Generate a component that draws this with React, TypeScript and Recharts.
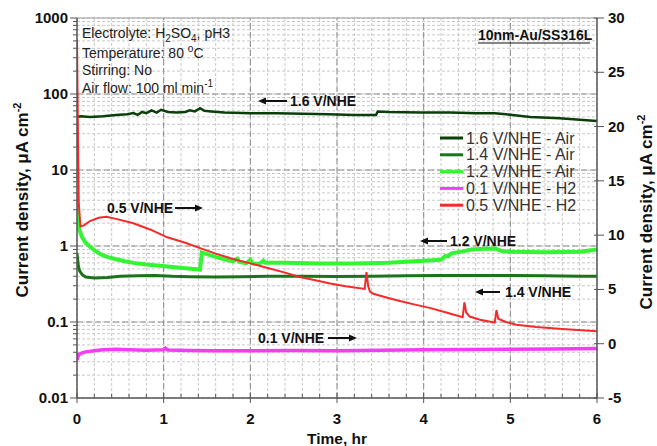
import React from "react";
import { LineChart, Line, XAxis, YAxis, CartesianGrid, ReferenceLine } from "recharts";

const FONT = '"Liberation Sans", Arial, sans-serif';
const AXIS = "#555";
const INK = "#111";

// axis ticks
const xTicks = [0, 0.2, 0.4, 0.6, 0.8, 1, 1.2, 1.4, 1.6, 1.8, 2, 2.2, 2.4, 2.6, 2.8, 3, 3.2, 3.4, 3.6, 3.8, 4, 4.2, 4.4, 4.6, 4.8, 5, 5.2, 5.4, 5.6, 5.8, 6];
const xMajor = [0, 1, 2, 3, 4, 5, 6];
const leftTicks = [
  0.01, 0.02, 0.03, 0.04, 0.05, 0.06, 0.07, 0.08, 0.09,
  0.1, 0.2, 0.3, 0.4, 0.5, 0.6, 0.7, 0.8, 0.9,
  1, 2, 3, 4, 5, 6, 7, 8, 9,
  10, 20, 30, 40, 50, 60, 70, 80, 90,
  100, 200, 300, 400, 500, 600, 700, 800, 900,
  1000,
];
const leftMajor = [0.01, 0.1, 1, 10, 100, 1000];
const rightTicks = [-5, 0, 5, 10, 15, 20, 25, 30];

// 1.6 V/NHE - Air (left, log)
const t16 = [0, 0.05, 0.15, 0.3, 0.45, 0.58, 0.65, 0.7, 0.75, 0.8, 0.86, 0.92, 0.97, 1.05, 1.15, 1.25, 1.3, 1.36, 1.42, 1.47, 1.55, 1.7, 2.0, 2.3, 2.6, 2.9, 3.2, 3.45, 3.47, 3.6, 3.96, 4.3, 4.6, 4.82, 4.95, 5.23, 5.57, 5.8, 6.0];
const v16 = [50, 51, 50, 51, 53, 54, 56, 53, 58, 56, 61, 57, 62, 58, 57, 58, 61, 59, 65, 60, 59, 57, 56, 56, 55, 54, 53, 53, 59, 58, 57, 57, 56, 56, 54, 50, 48, 46, 44];

// 1.4 V/NHE - Air (left, log)
const t14 = [0, 0.015, 0.03, 0.06, 0.1, 0.2, 0.35, 0.5, 0.7, 0.9, 1.1, 1.3, 1.6, 1.9, 2.2, 2.6, 3.0, 3.4, 3.8, 4.2, 4.6, 5.0, 5.4, 5.8, 6.0];
const v14 = [0.8, 0.55, 0.47, 0.42, 0.39, 0.38, 0.385, 0.4, 0.405, 0.41, 0.4, 0.395, 0.39, 0.395, 0.4, 0.4, 0.398, 0.4, 0.405, 0.41, 0.41, 0.41, 0.405, 0.4, 0.4];

// 1.2 V/NHE - Air (left, log)
const t12 = [0, 0.01, 0.03, 0.06, 0.1, 0.15, 0.2, 0.27, 0.35, 0.45, 0.55, 0.65, 0.8, 0.95, 1.1, 1.25, 1.42, 1.44, 1.5, 1.6, 1.7, 1.8, 1.85, 1.87, 1.95, 2.0, 2.02, 2.1, 2.15, 2.17, 2.4, 2.8, 3.2, 3.6, 3.9, 4.2, 4.25, 4.28, 4.32, 4.45, 4.55, 4.7, 4.82, 4.9, 5.0, 5.4, 5.8, 6.0];
const v12 = [5, 2.4, 1.6, 1.3, 1.1, 0.98, 0.88, 0.78, 0.72, 0.67, 0.63, 0.6, 0.57, 0.55, 0.53, 0.51, 0.49, 0.82, 0.78, 0.72, 0.67, 0.63, 0.68, 0.62, 0.59, 0.66, 0.59, 0.58, 0.64, 0.6, 0.6, 0.59, 0.59, 0.6, 0.63, 0.66, 0.74, 0.73, 0.8, 0.85, 0.9, 0.92, 0.93, 0.86, 0.84, 0.83, 0.84, 0.9];

// 0.1 V/NHE - H2 (right, linear)
const t01 = [0, 0.02, 0.06, 0.1, 0.2, 0.3, 0.45, 0.6, 0.8, 1.0, 1.02, 1.05, 1.3, 1.6, 2.0, 2.5, 3.0, 3.5, 4.0, 4.5, 5.0, 5.5, 6.0];
const v01 = [-1.5, -1.0, -0.85, -0.75, -0.64, -0.56, -0.5, -0.55, -0.6, -0.55, -0.42, -0.58, -0.62, -0.64, -0.64, -0.62, -0.64, -0.6, -0.56, -0.53, -0.5, -0.48, -0.44];

// 0.5 V/NHE - H2 (right, linear)
const t05 = [0, 0.01, 0.02, 0.04, 0.08, 0.15, 0.25, 0.34, 0.45, 0.65, 0.85, 1.04, 1.25, 1.42, 1.6, 1.8, 2.0, 2.19, 2.4, 2.57, 2.75, 2.92, 3.1, 3.32, 3.34, 3.36, 3.38, 3.42, 3.55, 3.69, 3.9, 4.07, 4.25, 4.45, 4.47, 4.49, 4.53, 4.65, 4.82, 4.84, 4.86, 4.95, 5.07, 5.3, 5.6, 6.0];
const v05 = [28, 20, 13, 10.8, 10.9, 11.3, 11.6, 11.7, 11.5, 11.1, 10.5, 9.8, 9.3, 8.8, 8.3, 7.8, 7.4, 7.0, 6.55, 6.15, 5.85, 5.55, 5.3, 5.05, 6.6, 5.3, 4.8, 4.6, 4.3, 4.0, 3.6, 3.3, 2.9, 2.45, 3.8, 2.9, 2.5, 2.2, 1.95, 3.1, 2.3, 2.0, 1.75, 1.55, 1.35, 1.15];

const series = [
  { name: "1.6 V/NHE - Air", color: "#0a3f0a", width: 2.5, axis: "left", t: t16, v: v16 },
  { name: "1.4 V/NHE - Air", color: "#1b741b", width: 3, axis: "left", t: t14, v: v14 },
  { name: "1.2 V/NHE - Air", color: "#33f533", width: 4, axis: "left", t: t12, v: v12 },
  { name: "0.1 V/NHE - H2", color: "#f53cf5", width: 3.5, axis: "right", t: t01, v: v01 },
  { name: "0.5 V/NHE - H2", color: "#f52a2a", width: 2, axis: "right", t: t05, v: v05 },
];

const toPoints = (t: number[], v: number[]) => t.map((x, i) => ({ t: x, v: v[i] }));

const labelStyle = { fontFamily: FONT, fontSize: 15, fontWeight: 700, fill: INK };

const LeftTick = (props: any) => {
  const { x, y, payload } = props;
  const major = leftMajor.includes(payload.value);
  return (
    <g>
      <line x1={x} x2={x - (major ? 7 : 4)} y1={y} y2={y} stroke={AXIS} strokeWidth={1} />
      {major && (
        <text x={x - 9} y={y} dy={5} textAnchor="end" style={labelStyle}>
          {String(payload.value)}
        </text>
      )}
    </g>
  );
};

const RightTick = (props: any) => {
  const { x, y, payload } = props;
  return (
    <g>
      <line x1={x - 3} x2={x + 7} y1={y} y2={y} stroke={AXIS} strokeWidth={1} />
      <text x={x + 11} y={y} dy={5} textAnchor="start" style={labelStyle}>
        {String(payload.value)}
      </text>
    </g>
  );
};

const BottomTick = (props: any) => {
  const { x, y, payload } = props;
  const major = xMajor.includes(payload.value);
  return (
    <g>
      <line x1={x} x2={x} y1={y - (major ? 5 : 4)} y2={major ? y + 5 : y} stroke={AXIS} strokeWidth={1} />
      {major && (
        <text x={x} y={y + 26} textAnchor="middle" style={labelStyle}>
          {String(payload.value)}
        </text>
      )}
    </g>
  );
};

const Arrow = ({ from, to, y }: { from: number; to: number; y: number }) => {
  const dir = to > from ? 1 : -1;
  return (
    <g>
      <line x1={from} x2={to - dir * 6} y1={y} y2={y} stroke={INK} strokeWidth={2} />
      <polygon points={`${to},${y} ${to - dir * 8},${y - 3.5} ${to - dir * 8},${y + 3.5}`} fill={INK} />
    </g>
  );
};

const tagStyle = { fontFamily: FONT, fontSize: 14, fontWeight: 700, fill: INK };
const infoStyle = { fontFamily: FONT, fontSize: 14, fill: "#222" };
const titleStyle = { fontFamily: FONT, fontSize: 17, fontWeight: 700, fill: INK };

export default function App() {
  return (
    <div style={{ position: "absolute", left: 0, top: 0, width: 657, height: 446, background: "#fff" }}>
      <LineChart width={657} height={446} margin={{ top: 18, right: 0, bottom: 0, left: 0 }}>
        <CartesianGrid yAxisId="left" stroke="#c8c8c8" strokeDasharray="3 2" />
        {xMajor.slice(1, -1).map((x) => (
          <ReferenceLine key={"vx" + x} x={x} yAxisId="left" stroke="#8c8c8c" strokeDasharray="6 3" />
        ))}
        {leftMajor.slice(1, -1).map((y) => (
          <ReferenceLine key={"hy" + y} y={y} yAxisId="left" stroke="#8c8c8c" strokeDasharray="6 3" />
        ))}
        <ReferenceLine y={1000} yAxisId="left" stroke="#999" />
        <XAxis
          dataKey="t"
          type="number"
          domain={[0, 6]}
          ticks={xTicks}
          interval={0}
          height={48}
          tickSize={0}
          tickMargin={0}
          tickLine={false}
          tick={(p: any) => <BottomTick {...p} />}
          axisLine={{ stroke: AXIS, strokeWidth: 1.5 }}
          allowDataOverflow
        />
        <YAxis
          yAxisId="left"
          type="number"
          scale="log"
          domain={[0.01, 1000]}
          ticks={leftTicks}
          interval={0}
          width={77}
          tickSize={0}
          tickMargin={0}
          tickLine={false}
          tick={(p: any) => <LeftTick {...p} />}
          axisLine={{ stroke: AXIS, strokeWidth: 1.5 }}
          allowDataOverflow
        />
        <YAxis
          yAxisId="right"
          orientation="right"
          type="number"
          domain={[-5, 30]}
          ticks={rightTicks}
          interval={0}
          width={60}
          tickSize={0}
          tickMargin={0}
          tickLine={false}
          tick={(p: any) => <RightTick {...p} />}
          axisLine={{ stroke: AXIS, strokeWidth: 1.5 }}
          allowDataOverflow
        />
        {series.map((s) => (
          <Line
            key={s.name}
            name={s.name}
            data={toPoints(s.t, s.v)}
            dataKey="v"
            yAxisId={s.axis}
            type="linear"
            stroke={s.color}
            strokeWidth={s.width}
            dot={false}
            isAnimationActive={false}
          />
        ))}
      </LineChart>

      <svg width={657} height={446} style={{ position: "absolute", left: 0, top: 0, pointerEvents: "none" }}>
        {/* axis titles */}
        <text transform="translate(28,200) rotate(-90)" textAnchor="middle" style={titleStyle}>
          Current density, μA cm<tspan dy={-7} fontSize={11}>-2</tspan>
        </text>
        <text transform="translate(652,212) rotate(-90)" textAnchor="middle" style={titleStyle}>
          Current density, μA cm<tspan dy={-7} fontSize={11}>-2</tspan>
        </text>
        <text x={337} y={444} textAnchor="middle" style={{ fontFamily: FONT, fontSize: 15.5, fontWeight: 700, fill: INK }}>
          Time, hr
        </text>

        {/* conditions */}
        <text x={82} y={38} style={infoStyle}>
          Electrolyte: H<tspan dy={4} fontSize={10}>2</tspan>
          <tspan dy={-4}>SO</tspan>
          <tspan dy={4} fontSize={10}>4</tspan>
          <tspan dy={-4}>, pH3</tspan>
        </text>
        <text x={82} y={58} style={infoStyle}>
          Temperature: 80 <tspan dy={-6} fontSize={10}>o</tspan>
          <tspan dy={6}>C</tspan>
        </text>
        <text x={82} y={75} style={infoStyle}>
          Stirring: No
        </text>
        <text x={82} y={93} style={infoStyle}>
          Air flow: 100 ml min<tspan dy={-6} fontSize={10}>-1</tspan>
        </text>

        <text x={478} y={40} style={tagStyle}>
          10nm-Au/SS316L
        </text>
        <line x1={478} x2={590} y1={43} y2={43} stroke={INK} strokeWidth={1.2} />

        {/* potential tags */}
        <Arrow from={287} to={258} y={101} />
        <text x={290} y={106} style={tagStyle}>1.6 V/NHE</text>
        <text x={107} y={213} style={tagStyle}>0.5 V/NHE</text>
        <Arrow from={175} to={203} y={208} />
        <Arrow from={447} to={420} y={241} />
        <text x={450} y={246} style={tagStyle}>1.2 V/NHE</text>
        <Arrow from={500} to={475} y={292} />
        <text x={505} y={297} style={tagStyle}>1.4 V/NHE</text>
        <text x={258} y={343} style={tagStyle}>0.1 V/NHE</text>
        <Arrow from={328} to={357} y={338} />

        {/* legend */}
        {series.map((s, i) => {
          const y = 138 + i * 16.8;
          return (
            <g key={s.name}>
              <line x1={440} x2={463} y1={y} y2={y} stroke={s.color} strokeWidth={3} />
              <text x={466} y={y + 5.5} style={{ fontFamily: FONT, fontSize: 16, fill: "#333" }}>
                {s.name}
              </text>
            </g>
          );
        })}
      </svg>
    </div>
  );
}
